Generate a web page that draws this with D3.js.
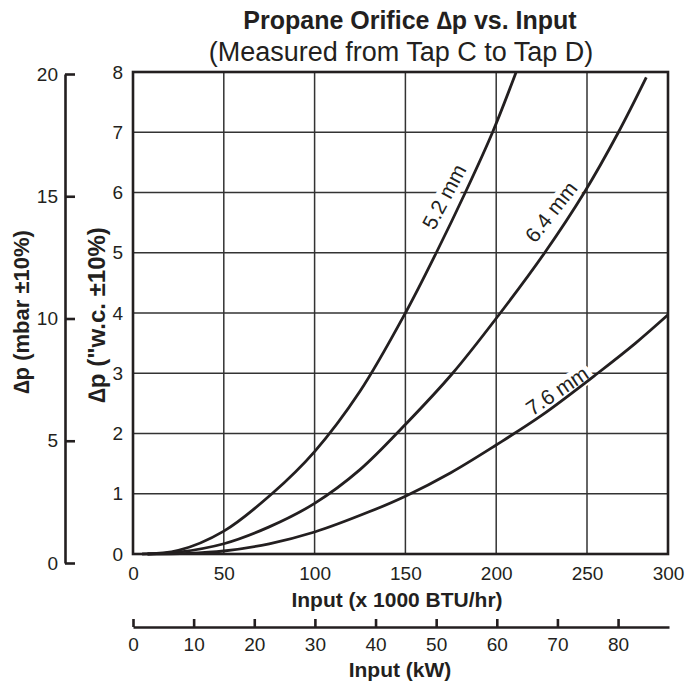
<!DOCTYPE html>
<html>
<head>
<meta charset="utf-8">
<script src="https://cdn.jsdelivr.net/npm/d3@7"></script>
<style>
  body { margin: 0; background: #fff; }
  text { font-family: "Liberation Sans", Arial, sans-serif; fill: #231f20; }
</style>
</head>
<body>
<svg id="chart" width="687" height="681"></svg>
<script>
// values (x in 1000 BTU/hr, y in inches w.c.)
var inputTicks = [0, 50, 100, 150, 200, 250, 300];
var wcTicks = [0, 1, 2, 3, 4, 5, 6, 7, 8];
var mbarTicks = [0, 5, 10, 15, 20];
var kwTicks = [0, 10, 20, 30, 40, 50, 60, 70, 80];

var orifice52 = [[5, 0], [25, 0.06], [50, 0.38], [76.5, 1.0], [100, 1.7], [125, 2.7],
  [150, 4.0], [167, 5.0], [183, 6.0], [198, 7.0], [211, 8.0]];
var orifice64 = [[8, 0], [25, 0.03], [50, 0.17], [75, 0.45], [100, 0.84], [125, 1.4], [150, 2.15],
  [176, 3.0], [201, 3.95], [226.7, 5.0], [248.5, 6.0], [269.4, 7.0], [286.6, 7.91]];
var orifice76 = [[8, 0], [30, 0.01], [50, 0.05], [75, 0.17], [100, 0.365], [130, 0.7], [150, 0.96],
  [175, 1.35], [200, 1.81], [225, 2.3], [256.6, 3.0], [280, 3.5], [300, 3.97]];

var curveLabels = [
  {text: "5.2 mm", x: 171.3, y: 5.93, angle: -62},
  {text: "6.4 mm", x: 230.2, y: 5.68, angle: -52},
  {text: "7.6 mm", x: 233.5, y: 2.71, angle: -34}
];

var svg = d3.select("#chart");
var ink = "#231f20";

var x = d3.scaleLinear().domain([0, 250, 300]).range([133, 587, 668]);
var y = d3.scaleLinear().domain([0, 8]).range([554, 72]);
var yMbar = d3.scaleLinear().domain([0, 20]).range([563, 74]);
var xKw = d3.scaleLinear().domain([0, 88.4]).range([133, 669]);

// grid
svg.append("g").selectAll("line.vgrid")
  .data(inputTicks.slice(1, -1))
  .enter().append("line")
  .attr("x1", function(d) { return x(d); })
  .attr("x2", function(d) { return x(d); })
  .attr("y1", y(0)).attr("y2", y(8))
  .attr("stroke", "#333").attr("stroke-width", 1.5);

svg.append("g").selectAll("line.hgrid")
  .data(wcTicks.slice(1, -1))
  .enter().append("line")
  .attr("x1", x(0)).attr("x2", x(300))
  .attr("y1", function(d) { return y(d); })
  .attr("y2", function(d) { return y(d); })
  .attr("stroke", "#333").attr("stroke-width", 1.5);

// curve labels with a white knock-out behind them
svg.append("g").selectAll("text.curve-label")
  .data(curveLabels)
  .enter().append("text")
  .attr("transform", function(d) {
    return "translate(" + x(d.x) + "," + y(d.y) + ") rotate(" + d.angle + ")";
  })
  .attr("text-anchor", "middle")
  .attr("dy", "0.35em")
  .style("font-size", "21px")
  .style("stroke", "#fff").style("stroke-width", 10).style("paint-order", "stroke")
  .text(function(d) { return d.text; });

// curves
var line = d3.line()
  .x(function(d) { return x(d[0]); })
  .y(function(d) { return y(d[1]); })
  .curve(d3.curveCatmullRom.alpha(0.5));

svg.append("g").selectAll("path")
  .data([orifice52, orifice64, orifice76])
  .enter().append("path")
  .attr("d", line)
  .attr("fill", "none")
  .attr("stroke", ink)
  .attr("stroke-width", 2.8);

// frame
svg.append("rect")
  .attr("x", x(0)).attr("y", y(8))
  .attr("width", x(300) - x(0)).attr("height", y(0) - y(8))
  .attr("fill", "none").attr("stroke", ink).attr("stroke-width", 2.6);

// inner w.c. axis labels
var wcAxis = svg.append("g")
  .attr("transform", "translate(" + x(0) + ",0)")
  .call(d3.axisLeft(y).tickValues(wcTicks).tickSize(0).tickPadding(10).tickFormat(d3.format("d")));
wcAxis.select(".domain").remove();

// input axis labels
var inAxis = svg.append("g")
  .attr("transform", "translate(0," + y(0) + ")")
  .call(d3.axisBottom(x).tickValues(inputTicks).tickSize(0).tickPadding(13).tickFormat(d3.format("d")));
inAxis.select(".domain").remove();

// mbar axis, ticks pointing right
var mbarAxis = svg.append("g")
  .attr("transform", "translate(65,0)")
  .call(d3.axisLeft(yMbar).tickValues(mbarTicks).tickSizeInner(-10).tickSizeOuter(0).tickPadding(7));

// kW axis, ticks pointing up
var kwAxis = svg.append("g")
  .attr("transform", "translate(0,627)")
  .call(d3.axisBottom(xKw).tickValues(kwTicks).tickSizeInner(-8).tickSizeOuter(0).tickPadding(11));

[wcAxis, inAxis, mbarAxis, kwAxis].forEach(function(g) {
  g.selectAll("text").style("font-size", "19px").attr("fill", ink)
    .style("font-family", "'Liberation Sans', Arial, sans-serif");
  g.selectAll("line, path").attr("stroke", ink).attr("stroke-width", 2.6);
});

// titles
svg.append("text").attr("x", 410).attr("y", 29).attr("text-anchor", "middle")
  .style("font-size", "25px").style("font-weight", "bold")
  .text("Propane Orifice \u2206p vs. Input");
svg.append("text").attr("x", 401).attr("y", 61).attr("text-anchor", "middle")
  .style("font-size", "27px")
  .text("(Measured from Tap C to Tap D)");

svg.append("text").attr("x", 397).attr("y", 607).attr("text-anchor", "middle")
  .style("font-size", "21px").style("font-weight", "bold")
  .text("Input (x 1000 BTU/hr)");
svg.append("text").attr("x", 400).attr("y", 677).attr("text-anchor", "middle")
  .style("font-size", "21px").style("font-weight", "bold")
  .text("Input (kW)");

svg.append("text").attr("transform", "translate(29,312) rotate(-90)").attr("text-anchor", "middle")
  .style("font-size", "22px").style("font-weight", "bold")
  .text("\u2206p (mbar \u00b110%)");
svg.append("text").attr("transform", "translate(105,315) rotate(-90)").attr("text-anchor", "middle")
  .style("font-size", "24px").style("font-weight", "bold")
  .text("\u2206p (\"w.c. \u00b110%)");
</script>
</body>
</html>
